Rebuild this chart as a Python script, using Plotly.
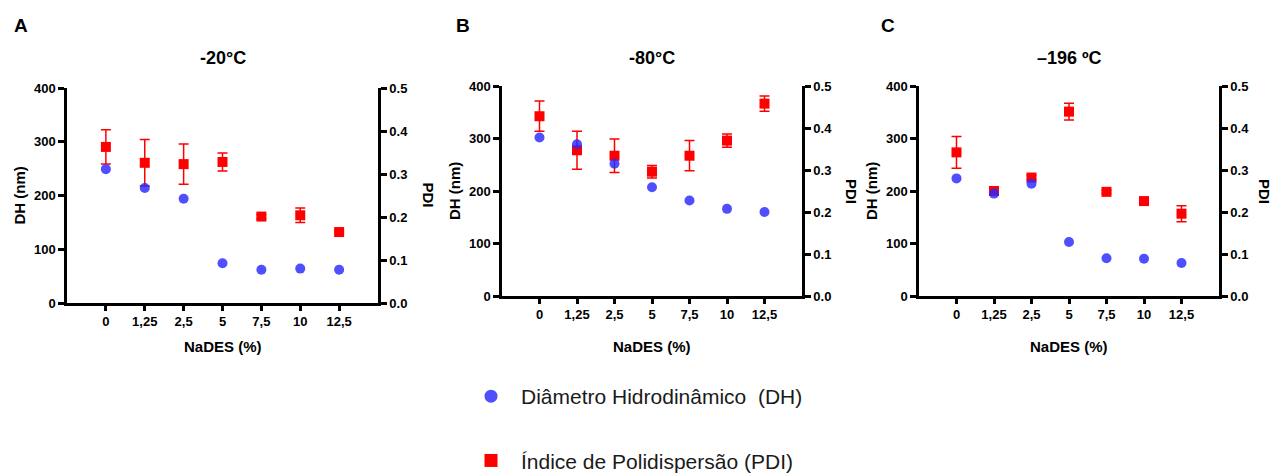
import plotly.graph_objects as go

W, H = 1276, 473

categories = ["0", "1,25", "2,5", "5", "7,5", "10", "12,5"]
panel_letters = ["A", "B", "C"]
panel_titles = ["-20°C", "-80°C", "–196 ºC"]

# Hydrodynamic diameter (nm)
dh_a = [249, 214, 194, 74, 62, 64, 62]
dh_b = [302, 289, 252, 207, 182, 166, 160]
dh_c = [224, 195, 214, 103, 72, 71, 63]

# Polydispersity index
pdi_a = [0.363, 0.326, 0.323, 0.328, 0.201, 0.204, 0.165]
pdi_a_err = [0.040, 0.054, 0.047, 0.021, 0.005, 0.017, 0.003]
pdi_b = [0.428, 0.347, 0.334, 0.296, 0.334, 0.370, 0.458]
pdi_b_err = [0.036, 0.045, 0.040, 0.015, 0.036, 0.016, 0.018]
pdi_c = [0.342, 0.250, 0.282, 0.439, 0.248, 0.226, 0.196]
pdi_c_err = [0.038, 0.004, 0.005, 0.020, 0.004, 0.006, 0.019]

legend_labels = ["Diâmetro Hidrodinâmico  (DH)", "Índice de Polidispersão (PDI)"]

dh_all = [dh_a, dh_b, dh_c]
pdi_all = [pdi_a, pdi_b, pdi_c]
pdi_err_all = [pdi_a_err, pdi_b_err, pdi_c_err]

BLUE = "rgba(40,40,255,0.82)"
RED = "#ff0000"
FONT = "Arial, Liberation Sans, sans-serif"

# panel pixel boxes: (left, right, top, bottom)
boxes = [(67, 378, 88, 303), (502, 802, 86, 296), (919, 1219, 86, 296)]
right_title_off = [50, 50, 46]


def px(x):
    return x / W


def py(y):
    return 1 - y / H


fig = go.Figure()
annotations = []
layout = dict(
    width=W, height=H,
    margin=dict(l=0, r=0, t=0, b=0, autoexpand=False),
    paper_bgcolor="white", plot_bgcolor="rgba(0,0,0,0)",
    font=dict(family=FONT, color="black"),
)

for i in range(3):
    l, r, t, b = boxes[i]
    xn = "x" if i == 0 else f"x{i+1}"
    yb_n = f"y{2*i+1}" if i > 0 else "y"
    yo_n = f"y{2*i+2}"
    xkey = "xaxis" if i == 0 else f"xaxis{i+1}"
    ybkey = "yaxis" if i == 0 else f"yaxis{2*i+1}"
    yokey = f"yaxis{2*i+2}"

    tickfont = dict(family=FONT, size=13, color="black", weight="bold")
    layout[xkey] = dict(
        domain=[px(l), px(r)], anchor=yb_n, type="category",
        range=[-1, 7], showline=True, linecolor="black", linewidth=2.5,
        ticks="outside", ticklen=5, tickwidth=2.5, tickcolor="black",
        showgrid=False, zeroline=False, tickfont=tickfont,
    )
    layout[ybkey] = dict(
        domain=[py(b), py(t)], anchor=xn, side="right", range=[0, 0.5],
        dtick=0.1, tickformat=".1f", showline=True, linecolor="black",
        linewidth=2.5, ticks="outside", ticklen=6, tickwidth=2.5,
        tickcolor="black", showgrid=False, zeroline=False, tickfont=tickfont,
    )
    layout[yokey] = dict(
        overlaying=yb_n, anchor=xn, side="left", range=[0, 400], dtick=100,
        showline=True, linecolor="black", linewidth=2.5, ticks="outside",
        ticklen=6, tickwidth=2.5, tickcolor="black", showgrid=False,
        zeroline=False, tickfont=tickfont,
    )

    fig.add_trace(go.Scatter(
        x=categories, y=pdi_all[i], xaxis=xn, yaxis=yb_n, mode="markers",
        marker=dict(symbol="square", size=10, color=RED),
        error_y=dict(type="data", array=pdi_err_all[i], color=RED,
                     thickness=1.5, width=5),
        showlegend=False, cliponaxis=False,
    ))
    fig.add_trace(go.Scatter(
        x=categories, y=dh_all[i], xaxis=xn, yaxis=yo_n, mode="markers",
        marker=dict(symbol="circle", size=10, color=BLUE),
        showlegend=False, cliponaxis=False,
    ))

    cx = (l + r) / 2
    cy = (t + b) / 2
    # panel title
    annotations.append(dict(
        text=f"<b>{panel_titles[i]}</b>", x=px(cx), y=py(58), xref="paper",
        yref="paper", showarrow=False, xanchor="center", yanchor="middle",
        font=dict(size=18, family=FONT, color="black"),
    ))
    # panel letter
    letter_x = [21, 463, 888][i]
    annotations.append(dict(
        text=f"<b>{panel_letters[i]}</b>", x=px(letter_x), y=py(26),
        xref="paper", yref="paper", showarrow=False, xanchor="center",
        yanchor="middle", font=dict(size=19, family=FONT, color="black"),
    ))
    # x title
    annotations.append(dict(
        text="<b>NaDES (%)</b>", x=px(cx), y=py(346), xref="paper",
        yref="paper", showarrow=False, xanchor="center", yanchor="middle",
        font=dict(size=15, family=FONT, color="black"),
    ))
    # left y title
    annotations.append(dict(
        text="<b>DH (nm)</b>", x=px(l - 48), y=py(cy), xref="paper",
        yref="paper", showarrow=False, xanchor="center", yanchor="middle",
        textangle=-90, font=dict(size=15, family=FONT, color="black"),
    ))
    # right y title
    annotations.append(dict(
        text="<b>PDI</b>", x=px(r + right_title_off[i]), y=py(cy),
        xref="paper", yref="paper", showarrow=False, xanchor="center",
        yanchor="middle", textangle=90,
        font=dict(size=15, family=FONT, color="black"),
    ))

# legend-only traces
fig.add_trace(go.Scatter(
    x=[None], y=[None], xaxis="x", yaxis="y2", mode="markers",
    marker=dict(symbol="circle", size=13, color=BLUE),
    name=legend_labels[0], legendgroup="dh", showlegend=True,
))
fig.add_trace(go.Scatter(
    x=[None], y=[None], xaxis="x", yaxis="y", mode="markers",
    marker=dict(symbol="square", size=13, color=RED),
    name=legend_labels[1], legendgroup="pdi", showlegend=True,
))

layout["annotations"] = annotations
layout["legend"] = dict(
    x=px(461), y=py(376), xanchor="left", yanchor="top",
    orientation="v", traceorder="grouped", tracegroupgap=34,
    font=dict(size=21, family=FONT, color="#1a1a1a"),
    bgcolor="rgba(0,0,0,0)", itemwidth=50,
)
layout["showlegend"] = True
fig.update_layout(**layout)

fig.write_html("out.html")
